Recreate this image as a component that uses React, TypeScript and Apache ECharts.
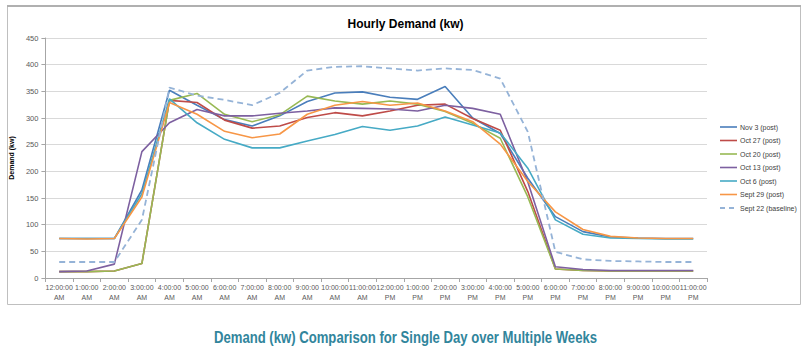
import React, { useEffect, useRef } from "react";
import * as echarts from "echarts";

const hours = [
  "12:00:00 AM", "1:00:00 AM", "2:00:00 AM", "3:00:00 AM", "4:00:00 AM", "5:00:00 AM",
  "6:00:00 AM", "7:00:00 AM", "8:00:00 AM", "9:00:00 AM", "10:00:00 AM", "11:00:00 AM",
  "12:00:00 PM", "1:00:00 PM", "2:00:00 PM", "3:00:00 PM", "4:00:00 PM", "5:00:00 PM",
  "6:00:00 PM", "7:00:00 PM", "8:00:00 PM", "9:00:00 PM", "10:00:00 PM", "11:00:00 PM",
];

const nov3 = [74, 74, 74, 165, 352, 324, 297, 285, 304, 331, 347, 349, 339, 335, 359, 300, 271, 187, 115, 87, 77, 75, 74, 74];
const oct27 = [12, 12, 13, 27, 333, 329, 296, 281, 285, 301, 310, 304, 313, 324, 326, 299, 277, 162, 17, 14, 13, 13, 13, 13];
const oct20 = [12, 12, 13, 27, 333, 346, 307, 293, 306, 341, 332, 326, 332, 326, 312, 290, 262, 152, 17, 14, 13, 13, 13, 13];
const oct13 = [12, 13, 26, 237, 291, 316, 304, 304, 309, 313, 319, 318, 317, 313, 324, 318, 307, 180, 21, 16, 14, 14, 14, 14];
const oct6 = [74, 74, 74, 158, 336, 291, 260, 244, 244, 257, 269, 284, 277, 285, 302, 287, 272, 206, 109, 82, 75, 74, 73, 73];
const sept29 = [74, 73, 74, 152, 329, 307, 275, 263, 270, 307, 324, 331, 324, 328, 313, 293, 251, 181, 124, 91, 78, 75, 74, 74];
const sept22 = [30, 30, 30, 109, 357, 342, 334, 324, 347, 389, 396, 397, 393, 389, 393, 390, 374, 274, 49, 35, 32, 31, 30, 30];

const seriesNames = ["Nov 3 (post)", "Oct 27 (post)", "Oct 20 (post)", "Oct 13 (post)", "Oct 6 (post)", "Sept 29 (post)", "Sept 22 (baseline)"];
const seriesData = [nov3, oct27, oct20, oct13, oct6, sept29, sept22];
const seriesColors = ["#4A7EBB", "#BE4B48", "#98B954", "#7D60A0", "#46AAC5", "#F79646", "#95B3D7"];

const chartTitle = "Hourly Demand (kw)";
const yAxisTitle = "Demand (kw)";
const caption = "Demand (kw) Comparison for Single Day over Multiple Weeks";

const FONT = "'Liberation Sans', Arial, sans-serif";

export default function App() {
  const ref = useRef<HTMLDivElement>(null);

  useEffect(() => {
    if (!ref.current) return;
    const chart = echarts.init(ref.current, null, { renderer: "svg" });

    const legendGraphics: any[] = [];
    seriesNames.forEach((name, i) => {
      const cy = 127 + 13.5 * i;
      legendGraphics.push({
        type: "line",
        shape: { x1: 720, y1: cy, x2: 737, y2: cy },
        style: {
          stroke: seriesColors[i],
          lineWidth: i === 6 ? 1.8 : 1.6,
          lineDash: i === 6 ? [5, 4] : null,
        },
        silent: true,
      });
      legendGraphics.push({
        type: "text",
        x: 740,
        y: cy,
        style: {
          text: name,
          fontSize: 7,
          fill: "#404040",
          fontFamily: FONT,
          textAlign: "left",
          textVerticalAlign: "middle",
        },
        silent: true,
      });
    });

    chart.setOption({
      animation: false,
      backgroundColor: "#ffffff",
      textStyle: { fontFamily: FONT },
      title: {
        text: chartTitle,
        left: "center",
        top: 13,
        textStyle: { fontSize: 12, fontWeight: "bold", color: "#000000", fontFamily: FONT },
      },
      grid: { left: 44, right: 104, top: 38, bottom: 82 },
      xAxis: {
        type: "category",
        data: hours,
        boundaryGap: true,
        axisLine: { lineStyle: { color: "#A6A6A6" } },
        axisTick: { show: true, alignWithLabel: false, length: 4, lineStyle: { color: "#A6A6A6" } },
        axisLabel: {
          interval: 0,
          fontSize: 7,
          lineHeight: 10,
          color: "#595959",
          margin: 4,
          fontFamily: FONT,
          formatter: (v: string) => v.replace(" ", "\n"),
        },
        splitLine: { show: false },
      },
      yAxis: {
        type: "value",
        min: 0,
        max: 450,
        interval: 50,
        name: yAxisTitle,
        nameLocation: "middle",
        nameGap: 22,
        nameTextStyle: { fontSize: 7, fontWeight: "bold", color: "#000000", fontFamily: FONT },
        axisLine: { show: true, lineStyle: { color: "#A6A6A6" } },
        axisTick: { show: true, length: 4, lineStyle: { color: "#A6A6A6" } },
        axisLabel: { fontSize: 7.5, color: "#595959", margin: 7, fontFamily: FONT },
        splitLine: { lineStyle: { color: "#D9D9D9", width: 1 } },
      },
      series: seriesNames.map((name, i) => ({
        name,
        type: "line",
        data: seriesData[i],
        symbol: "none",
        color: seriesColors[i],
        lineStyle: {
          color: seriesColors[i],
          width: i === 6 ? 1.8 : 1.6,
          type: i === 6 ? [6, 4] : "solid",
        },
      })),
      graphic: [
        {
          type: "rect",
          shape: { x: 7.5, y: 6.5, width: 793, height: 298 },
          style: { fill: "none", stroke: "#BFBFBF", lineWidth: 1 },
          silent: true,
        },
        {
          type: "line",
          shape: { x1: 7, y1: 6, x2: 801, y2: 6 },
          style: { stroke: "#B0B0B0", lineWidth: 2 },
          silent: true,
        },
        ...legendGraphics,
        {
          type: "text",
          x: 405.5,
          y: 338,
          scaleX: 0.82,
          style: {
            text: caption,
            fontSize: 16,
            fontWeight: "bold",
            fill: "#31859C",
            fontFamily: FONT,
            textAlign: "center",
            textVerticalAlign: "middle",
          },
          silent: true,
        },
      ],
    });
    return () => chart.dispose();
  }, []);

  return (
    <div
      ref={ref}
      style={{ position: "fixed", left: 0, top: 0, width: 811, height: 360, background: "#fff" }}
    />
  );
}
